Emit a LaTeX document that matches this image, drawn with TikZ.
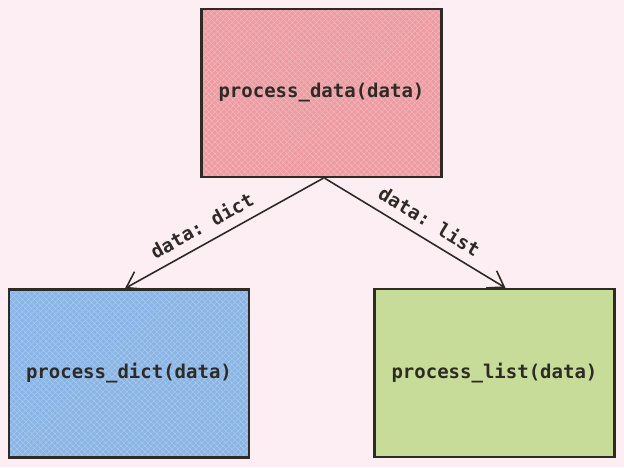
\documentclass[tikz,border=0pt]{standalone}
\usepackage{fontspec}
\setmonofont{DejaVu Sans Mono}
\usepackage{xcolor}
\usetikzlibrary{arrows.meta,patterns.meta}

\definecolor{bgpink}{HTML}{FDEEF3}
\definecolor{inkdark}{HTML}{2E2B27}
\definecolor{fillred}{HTML}{EE9CA2}
\definecolor{fillblue}{HTML}{8AB5E5}
\definecolor{fillgreen}{HTML}{C8DC9A}

\begin{document}
\begin{tikzpicture}[x=1pt,y=1pt,
    proc/.style={draw=inkdark,line width=2.2pt,rectangle,
        minimum width=240pt,minimum height=168pt,
        font=\fontsize{19}{22}\selectfont\ttfamily\bfseries,text=inkdark},
    hatch/.style={preaction={fill=#1},
        preaction={pattern={Lines[angle=45,distance=4pt,line width=0.5pt]},
            pattern color=#1!65!white},
        preaction={pattern={Lines[angle=-45,distance=4pt,line width=0.5pt]},
            pattern color=#1!65!white}},
    call/.style={draw=inkdark,line width=1.6pt,
        -{Straight Barb[length=15pt,width=20pt,line width=1.6pt]}},
    typelabel/.style={sloped,above=6pt,text=inkdark,
        font=\fontsize{19}{22}\selectfont\ttfamily\bfseries}]
    \useasboundingbox[fill=bgpink] (0,0) rectangle (624,467);
    \node[proc,hatch=fillred] (pdata) at (321.5,374) {process\_data(data)};
    \node[proc,hatch=fillblue] (pdict) at (129,93.5) {process\_dict(data)};
    \node[proc,fill=fillgreen] (plist) at (494.5,94) {process\_list(data)};
    \draw[call] ([xshift=2pt]pdata.south) -- ([xshift=-4pt]pdict.north)
        node[typelabel,pos=0.57] {data: dict};
    \draw[call] ([xshift=3pt]pdata.south) -- ([xshift=11pt]plist.north)
        node[typelabel,pos=0.53] {data: list};
\end{tikzpicture}
\end{document}
